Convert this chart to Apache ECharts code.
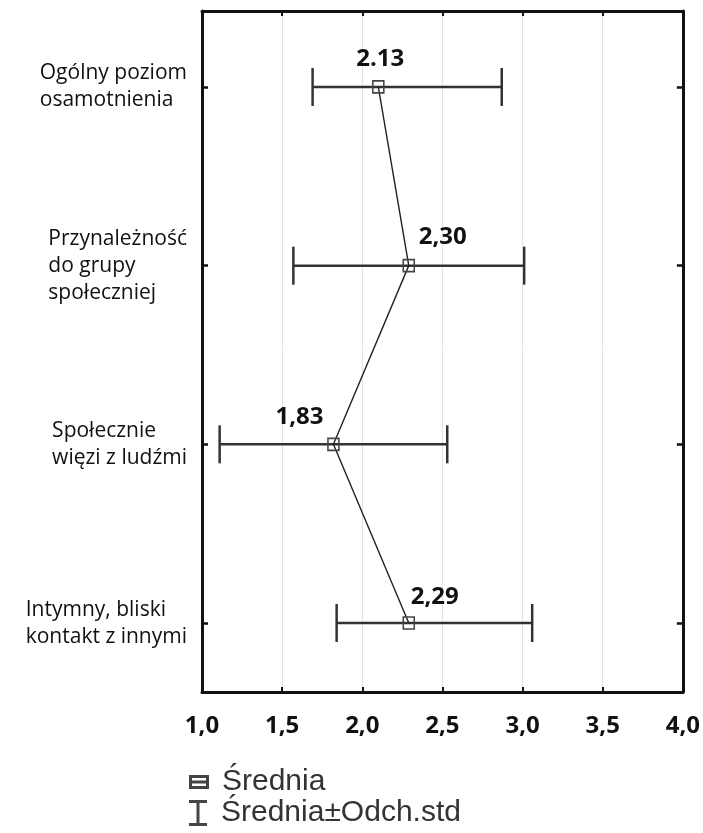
<!DOCTYPE html>
<html>
<head>
<meta charset="utf-8">
<script src="https://cdn.jsdelivr.net/npm/echarts@6/dist/echarts.min.js"></script>
<style>
  html, body { margin: 0; padding: 0; background: #fff; }
  #main { width: 703px; height: 833px; }
</style>
</head>
<body>
<div id="main"></div>
<script>
// dane
const categories = [
  'Ogólny poziom\nosamotnienia',
  'Przynależność\ndo grupy\nspołeczniej',
  'Społecznie\nwięzi z ludźmi',
  'Intymny, bliski\nkontakt z innymi'
];
const means = [2.10, 2.29, 1.82, 2.29];
const lows = [1.69, 1.57, 1.11, 1.84];
const highs = [2.87, 3.01, 2.53, 3.06];
const meanLabels = ['2.13', '2,30', '1,83', '2,29'];
const xTicks = [1.0, 1.5, 2.0, 2.5, 3.0, 3.5, 4.0];
const legendNames = ['Średnia', 'Średnia±Odch.std'];

// where each value label sits relative to its marker (px)
const labelOffsets = [[2, -28], [34, -28], [-34, -27], [26, -26]];

const rowIdx = categories.map((c, i) => i);
const frame = { color: '#111', width: 3 };

const chart = echarts.init(document.getElementById('main'), null, { renderer: 'canvas' });

const legendBase = {
  orient: 'vertical',
  left: 184,
  itemWidth: 20,
  itemHeight: 26,
  selectedMode: false,
  textStyle: { fontFamily: 'Liberation Sans', fontSize: 30, color: '#333', padding: [0, 0, 0, 8] }
};

const option = {
  backgroundColor: '#ffffff',
  animation: false,
  grid: { left: 202, right: 20, top: 11, bottom: 141 },
  xAxis: [{
    type: 'value',
    position: 'bottom',
    min: xTicks[0],
    max: xTicks[xTicks.length - 1],
    interval: xTicks[1] - xTicks[0],
    axisLine: { show: true, onZero: false, lineStyle: frame },
    axisTick: { show: true, inside: true, length: 5, lineStyle: { color: '#111', width: 2 } },
    splitLine: { show: true, lineStyle: { color: '#e2e2e2', width: 1 } },
    axisLabel: {
      margin: 22,
      fontFamily: 'Open Sans',
      fontWeight: 'bold',
      fontSize: 24,
      color: '#111',
      formatter: v => v.toFixed(1).replace('.', ',')
    }
  }, {
    type: 'value',
    position: 'top',
    min: xTicks[0],
    max: xTicks[xTicks.length - 1],
    interval: xTicks[1] - xTicks[0],
    axisLine: { show: true, onZero: false, lineStyle: frame },
    axisTick: { show: true, inside: true, length: 5, lineStyle: { color: '#111', width: 2 } },
    splitLine: { show: false },
    axisLabel: { show: false }
  }],
  yAxis: [{
    type: 'value',
    position: 'left',
    inverse: true,
    min: -0.425,
    max: 3.386,
    axisLine: { show: true, onZero: false, lineStyle: frame },
    axisTick: { show: true, inside: true, length: 6, customValues: rowIdx, lineStyle: { color: '#111', width: 2.5 } },
    splitLine: { show: false },
    axisLabel: {
      customValues: rowIdx,
      margin: 15,
      formatter: v => categories[v].split('\n').map(s => '{l|' + s + '}').join('\n'),
      rich: {
        l: { fontFamily: 'Open Sans', fontSize: 21, lineHeight: 27, color: '#111', align: 'left' }
      }
    }
  }, {
    type: 'value',
    position: 'right',
    inverse: true,
    min: -0.425,
    max: 3.386,
    axisLine: { show: true, onZero: false, lineStyle: frame },
    axisTick: { show: true, inside: true, length: 6, customValues: rowIdx, lineStyle: { color: '#111', width: 2.5 } },
    splitLine: { show: false },
    axisLabel: { show: false }
  }],
  legend: [
    Object.assign({}, legendBase, {
      top: 762,
      data: [{
        name: legendNames[0],
        icon: 'path://M0,0L20,0L20,14L0,14Z M3,3L3,5.5L17,5.5L17,3Z M3,8.5L3,11L17,11L17,8.5Z',
        itemStyle: { color: '#444', borderWidth: 0 }
      }]
    }),
    Object.assign({}, legendBase, {
      top: 793,
      data: [{
        name: legendNames[1],
        icon: 'path://M0,0L18,0L18,3L10.5,3L10.5,23L18,23L18,26L0,26L0,23L7.5,23L7.5,3L0,3Z',
        itemStyle: { color: '#444', borderWidth: 0 }
      }]
    })
  ],
  series: [{
    name: legendNames[1],
    type: 'custom',
    xAxisIndex: 0,
    yAxisIndex: 0,
    itemStyle: { color: '#333' },
    encode: { x: [0, 1], y: 2 },
    data: rowIdx.map(i => [lows[i], highs[i], i]),
    renderItem: function (params, api) {
      const y = api.value(2);
      const a = api.coord([api.value(0), y]);
      const b = api.coord([api.value(1), y]);
      const h = 19;
      const style = { stroke: '#333', lineWidth: 2.5 };
      return {
        type: 'group',
        children: [
          { type: 'line', shape: { x1: a[0], y1: a[1], x2: b[0], y2: b[1] }, style: style },
          { type: 'line', shape: { x1: a[0], y1: a[1] - h, x2: a[0], y2: a[1] + h }, style: style },
          { type: 'line', shape: { x1: b[0], y1: b[1] - h, x2: b[0], y2: b[1] + h }, style: style }
        ]
      };
    },
    z: 2
  }, {
    name: legendNames[0],
    type: 'line',
    xAxisIndex: 0,
    yAxisIndex: 0,
    data: rowIdx.map(i => ({ value: [means[i], i], label: { offset: labelOffsets[i] } })),
    symbol: 'rect',
    symbolSize: [11, 12],
    itemStyle: { color: 'rgba(0,0,0,0)', borderColor: '#444', borderWidth: 1.6 },
    lineStyle: { color: '#222', width: 1.4 },
    label: {
      show: true,
      position: 'inside',
      fontFamily: 'Open Sans',
      fontWeight: 'bold',
      fontSize: 24,
      color: '#111',
      formatter: p => meanLabels[p.dataIndex]
    },
    z: 3
  }]
};

chart.setOption(option);
</script>
</body>
</html>
